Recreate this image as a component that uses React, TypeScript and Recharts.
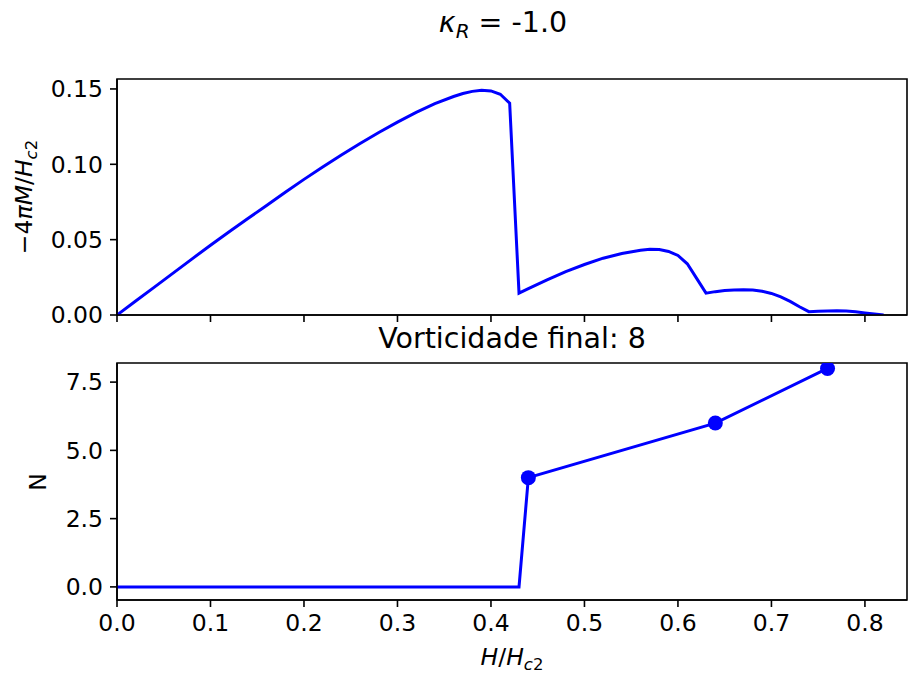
import React from 'react';
import { LineChart, Line, XAxis, YAxis, ReferenceArea } from 'recharts';

// magnetization curve (top panel)
const H_TOP = [
  0, 0.02, 0.04, 0.06, 0.08, 0.1, 0.12, 0.14, 0.16, 0.18, 0.2, 0.22, 0.24, 0.26, 0.28, 0.3,
  0.32, 0.34, 0.36, 0.37, 0.38, 0.39, 0.4, 0.41, 0.42, 0.43, 0.44, 0.46, 0.48, 0.5, 0.52,
  0.54, 0.56, 0.57, 0.58, 0.59, 0.6, 0.61, 0.62, 0.63, 0.64, 0.65, 0.66, 0.67, 0.68, 0.69,
  0.7, 0.71, 0.72, 0.73, 0.74, 0.75, 0.76, 0.77, 0.78, 0.79, 0.8, 0.81, 0.82,
];
const M_TOP = [
  0, 0.0093, 0.0185, 0.0278, 0.0371, 0.0463, 0.0552, 0.064, 0.0727, 0.0815, 0.09, 0.0982,
  0.1062, 0.1138, 0.1211, 0.128, 0.1344, 0.1402, 0.145, 0.147, 0.1484, 0.1492, 0.1487,
  0.1465, 0.1405, 0.0145, 0.0175, 0.0233, 0.0288, 0.0335, 0.0377, 0.0408, 0.043, 0.0436,
  0.0434, 0.0422, 0.0395, 0.034, 0.0243, 0.0145, 0.0155, 0.0162, 0.0166, 0.0168, 0.0166,
  0.0158, 0.0143, 0.012, 0.009, 0.0055, 0.0022, 0.0025, 0.0027, 0.0028, 0.0026, 0.0021,
  0.0013, 0.0006, 0,
];

// vortex count (bottom panel)
const H_N = [0, 0.43, 0.44, 0.64, 0.76];
const N_VALS = [0, 0, 4, 6, 8];
const H_DOTS = [0.44, 0.64, 0.76];
const N_DOTS = [4, 6, 8];

const X_TICKS = [0, 0.1, 0.2, 0.3, 0.4, 0.5, 0.6, 0.7, 0.8];
const M_TICKS = [0, 0.05, 0.1, 0.15];
const N_TICKS = [0, 2.5, 5, 7.5];

const X_DOMAIN = [0, 0.845];
const M_DOMAIN = [0, 0.1566];
const N_DOMAIN = [-0.48, 8.2];

const topData = H_TOP.map((h, i) => ({ h, m: M_TOP[i] }));
const nData = H_N.map((h, i) => ({ h, n: N_VALS[i] }));
const dotData = H_DOTS.map((h, i) => ({ h, n: N_DOTS[i] }));

const FONT = 'DejaVu Sans';
const BLUE = '#0000ff';
const tickStyle = { fill: '#000', fontSize: 23.5, fontFamily: FONT };
const axisLine = { stroke: '#000', strokeWidth: 1.6 };
const tickLine = { stroke: '#000', strokeWidth: 1.6 };

const App: React.FC = () => (
  <div style={{ position: 'absolute', left: 0, top: 0, width: 908, height: 675, background: '#fff' }}>
    <div style={{ position: 'absolute', left: 0, top: 0 }}>
      <LineChart width={908} height={330} margin={{ top: 79, right: 1, bottom: 5, left: 47 }}>
        <XAxis dataKey="h" type="number" domain={X_DOMAIN} ticks={X_TICKS} allowDataOverflow
          height={10} tick={tickStyle} tickFormatter={() => ''} tickLine={tickLine}
          axisLine={axisLine} tickSize={7} />
        <YAxis type="number" domain={M_DOMAIN} ticks={M_TICKS} allowDataOverflow width={70}
          tick={tickStyle} tickFormatter={(v: number) => v.toFixed(2)} tickSize={7} tickMargin={7}
          tickLine={tickLine} axisLine={axisLine} />
        <ReferenceArea x1={X_DOMAIN[0]} x2={X_DOMAIN[1]} y1={M_DOMAIN[0]} y2={M_DOMAIN[1]}
          fill="none" stroke="#000" strokeWidth={1.6} ifOverflow="visible" />
        <Line data={topData} dataKey="m" stroke={BLUE} strokeWidth={3} dot={false}
          type="linear" isAnimationActive={false} />
      </LineChart>
    </div>
    <div style={{ position: 'absolute', left: 0, top: 340 }}>
      <LineChart width={908} height={335} margin={{ top: 23, right: 1, bottom: 35, left: 47 }}>
        <XAxis dataKey="h" type="number" domain={X_DOMAIN} ticks={X_TICKS} allowDataOverflow
          height={40} tick={tickStyle} tickFormatter={(v: number) => v.toFixed(1)} tickSize={7}
          tickMargin={7} tickLine={tickLine} axisLine={axisLine} />
        <YAxis type="number" domain={N_DOMAIN} ticks={N_TICKS} allowDataOverflow width={70}
          tick={tickStyle} tickFormatter={(v: number) => v.toFixed(1)} tickSize={7} tickMargin={7}
          tickLine={tickLine} axisLine={axisLine} />
        <ReferenceArea x1={X_DOMAIN[0]} x2={X_DOMAIN[1]} y1={N_DOMAIN[0]} y2={N_DOMAIN[1]}
          fill="none" stroke="#000" strokeWidth={1.6} ifOverflow="visible" />
        <Line data={nData} dataKey="n" stroke={BLUE} strokeWidth={3} dot={false}
          type="linear" isAnimationActive={false} />
        <Line data={dotData} dataKey="n" stroke="none" dot={{ r: 7.5, fill: BLUE, stroke: 'none' }}
          type="linear" isAnimationActive={false} />
      </LineChart>
    </div>
    <svg width={908} height={675} style={{ position: 'absolute', left: 0, top: 0, pointerEvents: 'none' }}
      fontFamily={FONT} fill="#000">
      <text x={503} y={32} fontSize={28.5} textAnchor="middle">
        <tspan fontStyle="italic">κ</tspan>
        <tspan fontStyle="italic" fontSize={20} dy={6}>R</tspan>
        <tspan dy={-6}> = -1.0</tspan>
      </text>
      <text x={512} y={348} fontSize={28.5} textAnchor="middle">Vorticidade final: 8</text>
      <text transform="rotate(-90)" x={-197} y={32} fontSize={23.5} textAnchor="middle">
        <tspan>−4</tspan>
        <tspan fontStyle="italic">πM</tspan>
        <tspan>/</tspan>
        <tspan fontStyle="italic">H</tspan>
        <tspan fontStyle="italic" fontSize={16.5} dy={5}>c</tspan>
        <tspan fontSize={16.5}>2</tspan>
      </text>
      <text transform="rotate(-90)" x={-482} y={46} fontSize={23.5} textAnchor="middle">N</text>
      <text x={512} y={665} fontSize={23.5} textAnchor="middle">
        <tspan fontStyle="italic">H</tspan>
        <tspan>/</tspan>
        <tspan fontStyle="italic">H</tspan>
        <tspan fontStyle="italic" fontSize={16.5} dy={5}>c</tspan>
        <tspan fontSize={16.5}>2</tspan>
      </text>
    </svg>
  </div>
);

export default App;
